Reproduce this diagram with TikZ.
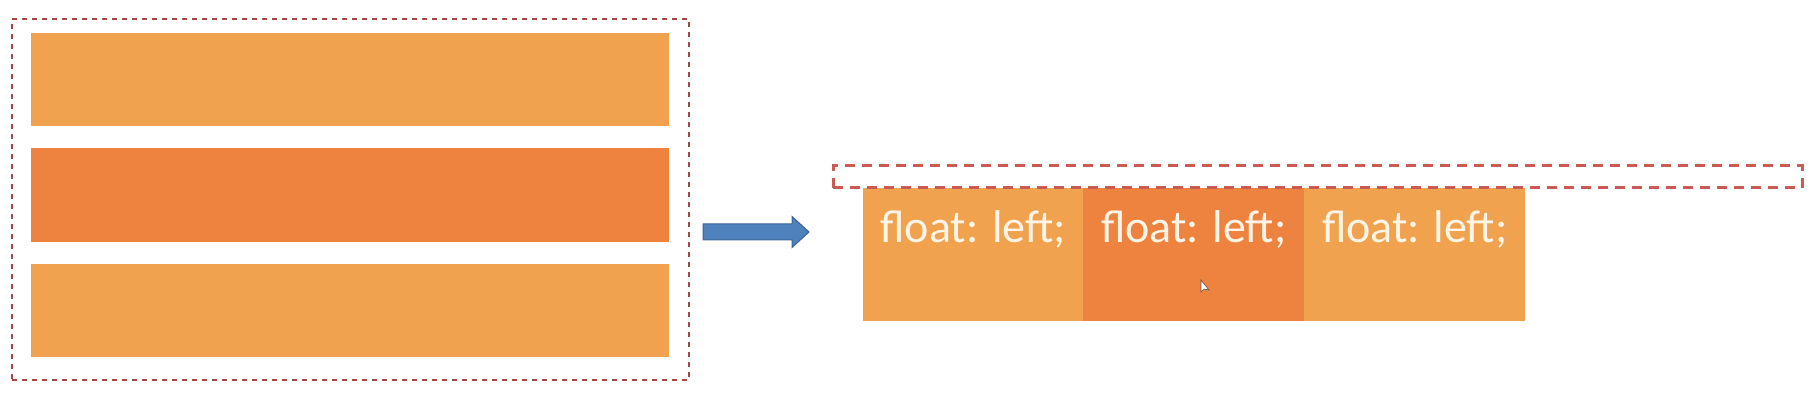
\documentclass[tikz,border=0pt]{standalone}
\usepackage{fontspec}
\setmainfont{Carlito}
\definecolor{lightor}{HTML}{F0A24E}
\definecolor{midor}{HTML}{EE823F}
\definecolor{dashred}{HTML}{C95A54}
\definecolor{arrowblue}{HTML}{4F81BD}
\definecolor{arrowedge}{HTML}{3A6496}
\definecolor{txtcream}{HTML}{FFF4E6}
\begin{document}
\begin{tikzpicture}[x=1pt,y=-1pt,
  bar/.style={draw=none,inner sep=0,minimum width=638pt,minimum height=93pt},
  fbox/.style={draw=none,inner sep=0,minimum width=221pt,minimum height=133pt},
  ftext/.style={text=txtcream,inner sep=0,anchor=base west,font=\fontsize{46}{50}\selectfont},
  lbox/.style={draw=dashred!80!black,line width=2.4pt,dash pattern=on 5pt off 5pt,inner sep=0},
  strip/.style={draw=dashred,line width=3pt,dash pattern=on 10pt off 7pt,inner sep=0}]
\useasboundingbox (0,0) rectangle (1816,406);
% left column of bars
\node[bar,fill=lightor] (b1) at (350,79.5) {};
\node[bar,fill=midor,minimum height=94pt] (b2) at (350,195) {};
\node[bar,fill=lightor] (b3) at (350,310.5) {};
\node[lbox,minimum width=677pt,minimum height=361pt] (outer) at (350.5,199.5) {};
% block arrow
\coordinate (ar) at (703,232);
\fill[arrowblue,draw=arrowedge,line width=1pt]
  (ar) ++(0,-8) -- ++(89,0) -- ++(0,-7.5) -- ++(17,15.5) -- ++(-17,15.5) -- ++(0,-7.5) -- ++(-89,0) -- cycle;
% floated boxes
\node[fbox,fill=lightor] (f1) at (973,254.5) {};
\node[fbox,fill=midor] (f2) at (1193.5,254.5) {};
\node[fbox,fill=lightor] (f3) at (1414.5,254.5) {};
\node[ftext] (t1) at ([xshift=18pt]f1.west |- 0,242.5) {float: left;};
\node[ftext] (t2) at ([xshift=18pt]f2.west |- 0,242.5) {float: left;};
\node[ftext] (t3) at ([xshift=18pt]f3.west |- 0,242.5) {float: left;};
% dashed strip
\node[strip,minimum width=969pt,minimum height=22pt] (s) at (1317.5,177) {};
% mouse pointer
\coordinate (cur) at (1201,280);
\filldraw[fill=white,draw=gray!70!black,line width=0.6pt] (cur) -- ++(0,12) -- ++(3,-3) -- ++(5,1) -- cycle;
\end{tikzpicture}
\end{document}
